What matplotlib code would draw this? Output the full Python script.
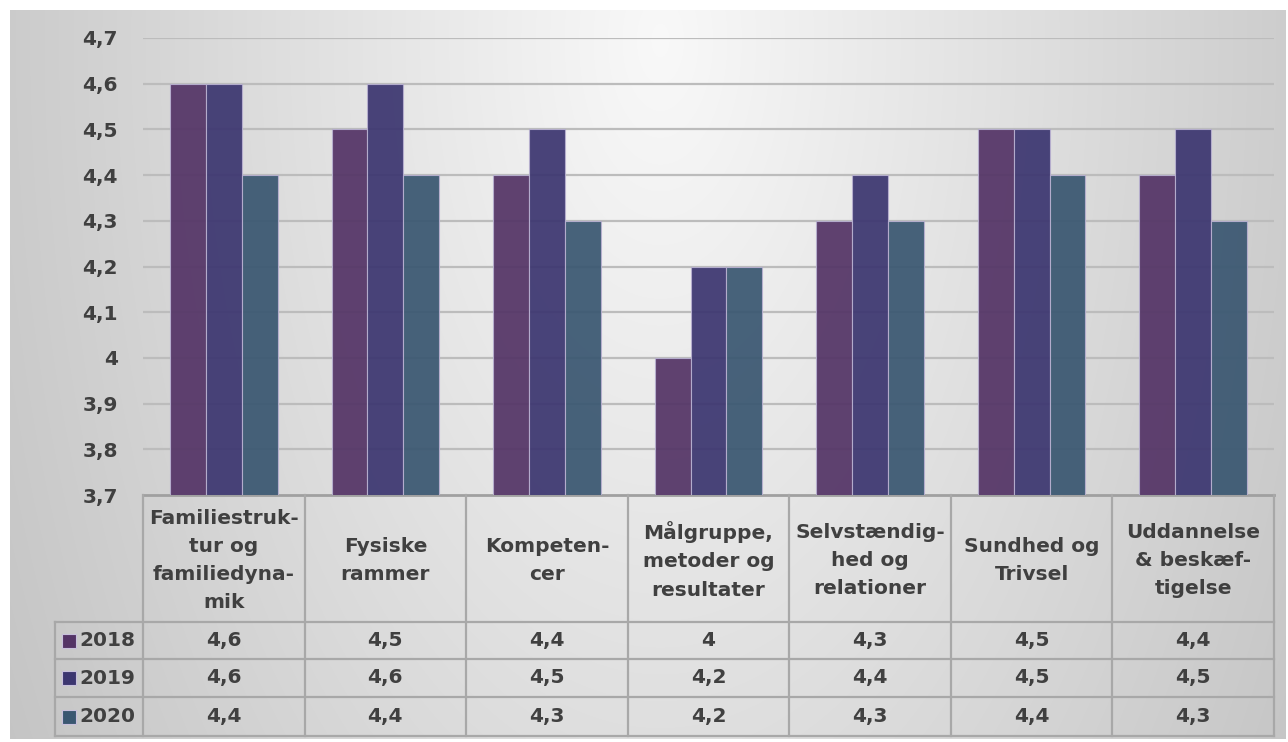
import numpy as np
import matplotlib.pyplot as plt

# Gennemsnitlige vurderinger pr. tema
temaer = ["Familiestruk-\ntur og\nfamiliedyna-\nmik", "Fysiske\nrammer", "Kompeten-\ncer",
          "Målgruppe,\nmetoder og\nresultater", "Selvstændig-\nhed og\nrelationer",
          "Sundhed og\nTrivsel", "Uddannelse\n& beskæf-\ntigelse"]
aar = ["2018", "2019", "2020"]
v2018 = [4.6, 4.5, 4.4, 4.0, 4.3, 4.5, 4.4]
v2019 = [4.6, 4.6, 4.5, 4.2, 4.4, 4.5, 4.5]
v2020 = [4.4, 4.4, 4.3, 4.2, 4.3, 4.4, 4.3]
farver = ["#543466", "#3c3670", "#3a5771"]

W, H = 1288, 742
fig = plt.figure(figsize=(W / 100, H / 100), dpi=100)
fig.patch.set_facecolor("white")

# grå baggrund med lys midte
bg = fig.add_axes([0, 0, 1, 1])
yy, xx = np.mgrid[0:H, 0:W]
r = np.sqrt(((xx - 660) / 700.0) ** 2 + ((yy - 40) / 1300.0) ** 2)
v = np.clip(0.975 - 0.19 * r, 0.77, 1)
img = np.dstack([v, v, v])
img[:10, :] = 1
img[:, :10] = 1
img[:, 1286:] = 1
img[739:, :] = 1
bg.imshow(img, aspect="auto", extent=[0, W, H, 0])
bg.set_xlim(0, W)
bg.set_ylim(H, 0)
bg.axis("off")

def fx(px):
    return px / W

def fy(py):
    return 1 - py / H

txt = "#404040"
fnt = "DejaVu Sans"
fs = 14.5

# søjlediagram
y_top, y_bot = 38, 495
left, right = 143, 1274
ax = fig.add_axes([fx(left), fy(y_bot), fx(right) - fx(left), fy(y_top) - fy(y_bot)])
ax.patch.set_alpha(0)
x = np.arange(len(temaer))
bw = 0.222
for i, (vals, c) in enumerate(zip([v2018, v2019, v2020], farver)):
    ax.bar(x + (i - 1) * bw, np.array(vals) - 3.7, bw, bottom=3.7, color=c, alpha=0.93,
           edgecolor="#b8b0d0", linewidth=0.8, zorder=3)
ax.set_xlim(-0.5, len(temaer) - 0.5)
ax.set_ylim(3.7, 4.7)
ticks = np.round(np.arange(3.7, 4.71, 0.1), 1)
ax.set_yticks(ticks)
ax.set_yticklabels([("%g" % t).replace(".", ",") for t in ticks], fontsize=fs,
                   fontweight="bold", color=txt, family=fnt)
ax.tick_params(axis="y", length=0, pad=18)
ax.tick_params(axis="x", length=0, labelbottom=False)
for t in ticks[1:]:
    ax.axhline(t, color="#bcbcbc", lw=1.6, zorder=2)
for s in ["top", "right", "left"]:
    ax.spines[s].set_visible(False)
ax.spines["bottom"].set_color("#a0a0a0")
ax.spines["bottom"].set_linewidth(2)

# datatabel under diagrammet
leg_left = 55
row_y = [495, 622, 659, 697, 736]
colw = (right - left) / len(temaer)
tab = fig.add_axes([0, 0, 1, 1])
tab.set_xlim(0, W)
tab.set_ylim(H, 0)
tab.axis("off")
lc = "#a8a8a8"
for j in range(len(temaer) + 1):
    xc = left + j * colw
    tab.plot([xc, xc], [row_y[0], row_y[-1]], color=lc, lw=1.6)
tab.plot([leg_left, leg_left], [row_y[1], row_y[-1]], color=lc, lw=1.6)
for yv in row_y[1:]:
    tab.plot([leg_left, right], [yv, yv], color=lc, lw=1.6)

for j, t in enumerate(temaer):
    tab.text(left + (j + 0.5) * colw, (row_y[0] + row_y[1]) / 2 + 2, t, ha="center",
             va="center", fontsize=fs, fontweight="bold", color=txt, family=fnt,
             linespacing=1.62)

for k, (navn, vals, c) in enumerate(zip(aar, [v2018, v2019, v2020], farver)):
    yc = (row_y[k + 1] + row_y[k + 2]) / 2
    tab.plot(69, yc, marker="s", ms=10, color=c, mec="#c8c0dc", mew=0.8)
    tab.text(79, yc, navn, ha="left", va="center", fontsize=fs, fontweight="bold",
             color=txt, family=fnt)
    for j, val in enumerate(vals):
        tab.text(left + (j + 0.5) * colw, yc, ("%g" % val).replace(".", ","), ha="center",
                 va="center", fontsize=fs, fontweight="bold", color=txt, family=fnt)

fig.savefig("out.png", dpi=100)
